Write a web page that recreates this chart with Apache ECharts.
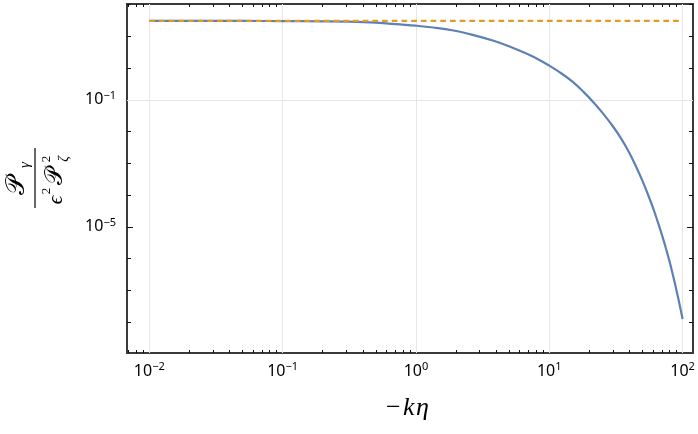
<!DOCTYPE html>
<html>
<head>
<meta charset="utf-8">
<script src="https://cdn.jsdelivr.net/npm/echarts@6/dist/echarts.min.js"></script>
<style>
  html, body { margin: 0; padding: 0; background: #fff; }
  #chart { width: 698px; height: 434px; }
</style>
</head>
<body>
<div id="chart"></div>
<script>
// -k eta on the x axis, ratio P_gamma / (eps^2 P_zeta^2) on the y axis
const kEta = [0.01, 0.05, 0.1, 0.2, 0.3, 0.5, 0.76, 1, 1.35, 1.91, 2.7, 3.82, 5.09, 6.8, 8.5, 10, 12, 15, 18,
  21.5, 25, 30, 35, 40, 45, 50, 55, 60, 65, 70, 75, 80, 85, 90, 95, 100];
const ratioFull = [30.62, 30.62, 30.34, 29.79, 29.11, 26.98, 23.77, 21.78, 19.05, 15.31, 10.96, 7.28, 4.75, 2.82, 1.78, 1.2,
  0.74, 0.37, 0.182, 0.0832, 0.0398, 0.0148, 0.00562, 0.00209, 7.59e-4, 2.82e-4, 1.05e-4, 3.98e-5, 1.48e-5,
  5.62e-6, 2.09e-6, 7.94e-7, 2.82e-7, 1.0e-7, 3.55e-8, 1.26e-8];
const kEtaLimit = [0.01, 100];
const ratioLimit = [30.62, 30.62];

const xMajor = [0.01, 0.1, 1, 10, 100];
const xMinor = [0.007, 0.008, 0.009,
  0.02, 0.03, 0.04, 0.05, 0.06, 0.07, 0.08, 0.09,
  0.2, 0.3, 0.4, 0.5, 0.6, 0.7, 0.8, 0.9,
  2, 3, 4, 5, 6, 7, 8, 9,
  20, 30, 40, 50, 60, 70, 80, 90];
const yLabeled = [1e-1, 1e-5];
const yDecades = [1e-8, 1e-7, 1e-6, 1e-4, 1e-3, 1e-2, 1, 10, 100];

const xMin = Math.pow(10, -2.167), xMax = Math.pow(10, 2.078);
const yMin = Math.pow(10, -8.97), yMax = Math.pow(10, 2.02);

const frame = { color: '#3a3a3a', width: 2 };
const tickStyle = { color: '#111', width: 1 };
const labelFont = 'Noto Sans';

function powLabel(v) {
  const e = Math.round(Math.log10(v));
  return '{b|10}{s|' + String(e).replace('-', '\u2212') + '}';
}
const labelRich = {
  b: { fontFamily: labelFont, fontSize: 16, color: '#000', lineHeight: 20 },
  s: { fontFamily: labelFont, fontSize: 11, color: '#000', lineHeight: 12, verticalAlign: 'top' }
};

function xAxis(pos, ticks, len, showLine, showLabel) {
  return {
    type: 'log', position: pos, min: xMin, max: xMax,
    axisLine: { show: showLine, onZero: false, lineStyle: frame },
    axisTick: { show: true, inside: true, length: len, customValues: ticks, lineStyle: tickStyle },
    axisLabel: showLabel ? { show: true, customValues: ticks, formatter: powLabel, rich: labelRich, margin: 8 } : { show: false },
    splitLine: { show: false }
  };
}
function yAxis(pos, ticks, len, showLine, showLabel) {
  return {
    type: 'log', position: pos, min: yMin, max: yMax,
    axisLine: { show: showLine, onZero: false, lineStyle: frame },
    axisTick: { show: true, inside: true, length: len, customValues: ticks, lineStyle: tickStyle },
    axisLabel: showLabel ? { show: true, customValues: ticks, formatter: powLabel, rich: labelRich, margin: 11 } : { show: false },
    splitLine: { show: false }
  };
}

const chart = echarts.init(document.getElementById('chart'));

const serif = 'Liberation Serif';
const scriptP = '\u{1D4AB}';

function mathText(x, y, text, size, italic) {
  return {
    type: 'text', x: x, y: y,
    style: {
      text: text, fontFamily: italic === 'P' ? 'DejaVu Serif' : serif,
      fontStyle: italic === true ? 'italic' : 'normal',
      fontSize: size, fill: '#000', align: 'center', verticalAlign: 'middle'
    }
  };
}

chart.setOption({
  animation: false,
  grid: { left: 127, right: 5, top: 4, bottom: 81 },
  xAxis: [
    xAxis('bottom', xMajor, 6, true, true),
    xAxis('bottom', xMinor, 3, false, false),
    xAxis('top', xMajor, 6, true, false),
    xAxis('top', xMinor, 3, false, false)
  ],
  yAxis: [
    yAxis('left', yLabeled, 6, true, true),
    yAxis('left', yDecades, 4, false, false),
    yAxis('right', yLabeled, 6, true, false),
    yAxis('right', yDecades, 4, false, false)
  ],
  series: [
    {
      type: 'line', xAxisIndex: 0, yAxisIndex: 0, data: [], silent: true, z: 1,
      markLine: {
        silent: true, symbol: ['none', 'none'], z: 1, animation: false,
        label: { show: false },
        lineStyle: { color: '#e6e6e6', width: 1, type: 'solid' },
        data: xMajor.map(v => ({ xAxis: v })).concat(yLabeled.map(v => ({ yAxis: v })))
      }
    },
    {
      type: 'line', xAxisIndex: 0, yAxisIndex: 0, z: 3,
      data: kEta.map((x, i) => [x, ratioFull[i]]),
      showSymbol: false, smooth: 0.4,
      lineStyle: { color: '#5e81b5', width: 2.2 }
    },
    {
      type: 'line', xAxisIndex: 0, yAxisIndex: 0, z: 4,
      data: kEtaLimit.map((x, i) => [x, ratioLimit[i]]),
      showSymbol: false,
      lineStyle: { color: '#e19c24', width: 2.3, type: [5.7, 4] }
    }
  ],
  graphic: [
    {
      type: 'text', left: 386, top: 395,
      style: {
        text: '{m|\u2212}{k|k}{i|\u03b7}',
        rich: {
          m: { fontFamily: serif, fontSize: 26, fill: '#000', width: 17 },
          k: { fontFamily: serif, fontSize: 26, fontStyle: 'italic', fill: '#000', width: 13 },
          i: { fontFamily: serif, fontSize: 26, fontStyle: 'italic', fill: '#000' }
        }
      }
    },
    {
      type: 'group', x: 35, y: 178, rotation: Math.PI / 2,
      children: [
        { type: 'line', shape: { x1: -30, y1: 0, x2: 30, y2: 0 }, style: { stroke: '#000', lineWidth: 1.2 } },
        mathText(-7, -18, scriptP, 26, 'P'),
        mathText(13, -10, '\u03b3', 15, true),
        mathText(-22, 21, '\u03f5', 21, true),
        mathText(-13, 12, '2', 13, false),
        mathText(2, 21, scriptP, 24, 'P'),
        mathText(19, 12, '2', 13, false),
        mathText(19, 29, '\u03b6', 14, true)
      ]
    }
  ]
});
</script>
</body>
</html>
